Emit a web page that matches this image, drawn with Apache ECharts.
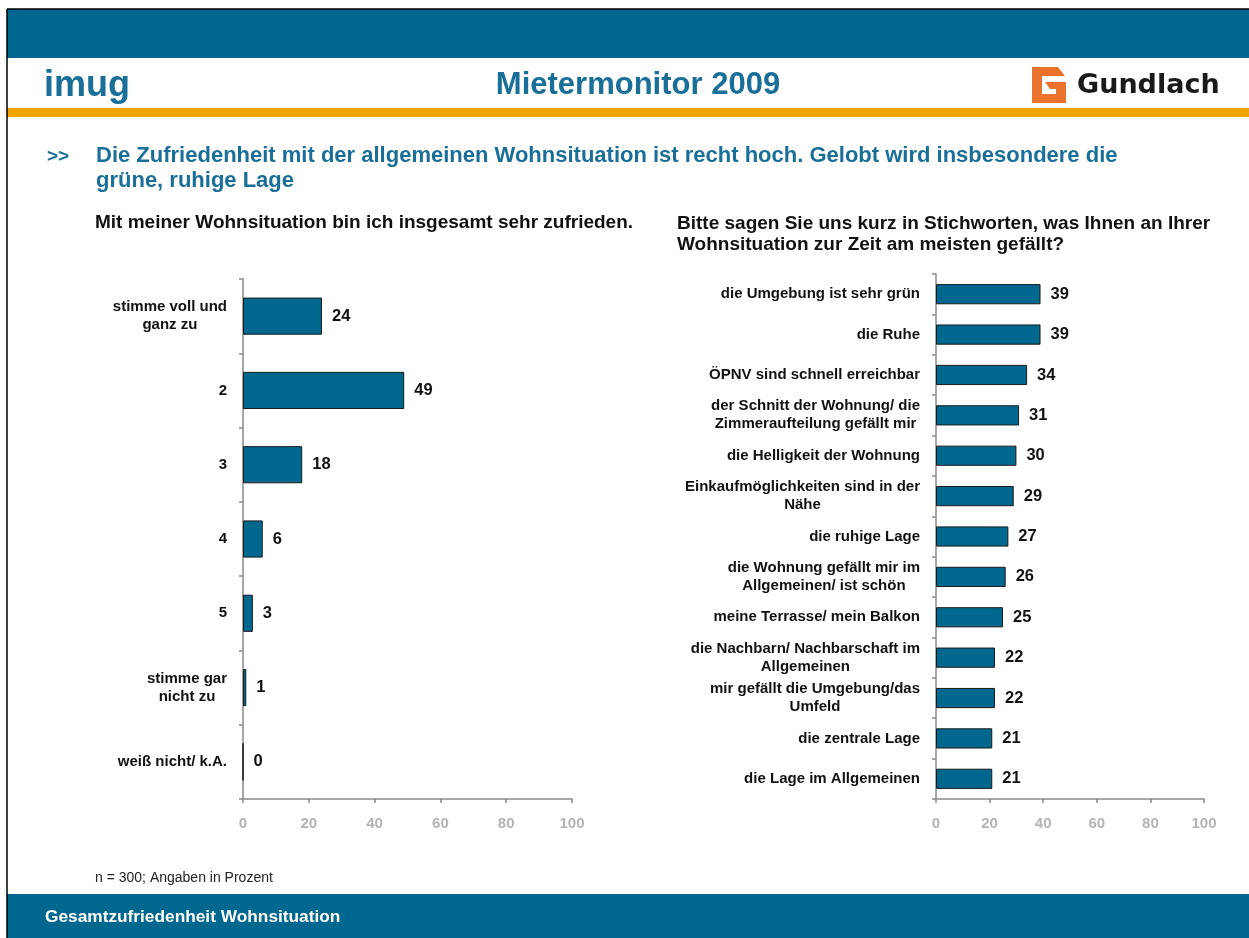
<!DOCTYPE html>
<html>
<head>
<meta charset="utf-8">
<title>Mietermonitor 2009</title>
<script src="https://cdn.jsdelivr.net/npm/echarts@6/dist/echarts.min.js"></script>
<style>
  html, body { margin: 0; padding: 0; background: #fff; }
  #chart { width: 1249px; height: 938px; }
</style>
</head>
<body>
<div id="chart"></div>
<script>
// left chart: satisfaction scale
const leftCategories = [
  'stimme voll und\nganz zu', '2', '3', '4', '5', 'stimme gar\nnicht zu', 'weiß nicht/ k.A.'
]
const leftValues = [24, 49, 18, 6, 3, 1, 0]

// right chart: what people like most
const rightCategories = [
  'die Umgebung ist sehr grün',
  'die Ruhe',
  'ÖPNV sind schnell erreichbar',
  'der Schnitt der Wohnung/ die\nZimmeraufteilung gefällt mir',
  'die Helligkeit der Wohnung',
  'Einkaufmöglichkeiten sind in der\nNähe',
  'die ruhige Lage',
  'die Wohnung gefällt mir im\nAllgemeinen/ ist schön',
  'meine Terrasse/ mein Balkon',
  'die Nachbarn/ Nachbarschaft im\nAllgemeinen',
  'mir gefällt die Umgebung/das\nUmfeld',
  'die zentrale Lage',
  'die Lage im Allgemeinen'
]
const rightValues = [39, 39, 34, 31, 30, 29, 27, 26, 25, 22, 22, 21, 21]

const xTicks = [0, 20, 40, 60, 80, 100]

const FONT = '"Liberation Sans", Arial, Helvetica, sans-serif'
const BLUE = '#00678f'

const chart = echarts.init(document.getElementById('chart'))

// every line centred inside the label block, block right-aligned to the axis
const centreLines = v => v.split('\n').map(l => '{c|' + l + '}').join('\n')

const catAxis = (gridIndex, data) => ({
  type: 'category',
  gridIndex,
  data,
  inverse: true,
  axisLine: { lineStyle: { color: '#8a8a8a', width: 1.5 } },
  axisTick: { show: true, length: 4, lineStyle: { color: '#8a8a8a', width: 1.5 } },
  axisLabel: {
    margin: 16,
    align: 'right',
    formatter: centreLines,
    rich: {
      c: {
        align: 'center',
        fontFamily: FONT,
        fontWeight: 'bold',
        fontSize: 15,
        lineHeight: 18,
        color: '#111'
      }
    }
  }
})

const valAxis = gridIndex => ({
  type: 'value',
  gridIndex,
  min: xTicks[0],
  max: xTicks[xTicks.length - 1],
  interval: xTicks[1] - xTicks[0],
  splitLine: { show: false },
  axisLine: { show: true, lineStyle: { color: '#8a8a8a', width: 1.5 } },
  axisTick: { show: true, length: 4, lineStyle: { color: '#8a8a8a', width: 1.5 } },
  axisLabel: {
    margin: 17,
    fontFamily: FONT,
    fontWeight: 'bold',
    fontSize: 15,
    color: '#b4b4b4'
  }
})

const barSeries = (idx, values) => ({
  type: 'bar',
  xAxisIndex: idx,
  yAxisIndex: idx,
  data: values,
  barCategoryGap: '50%',
  itemStyle: { color: BLUE, borderColor: '#1a1a1a', borderWidth: 1 },
  label: {
    show: true,
    position: 'right',
    distance: 10,
    fontFamily: FONT,
    fontWeight: 'bold',
    fontSize: 16.5,
    color: '#111'
  },
  silent: true
})

const txt = (text, x, y, size, color, weight, align, family) => ({
  type: 'text',
  silent: true,
  style: {
    text, x, y,
    fill: color,
    fontFamily: family || FONT,
    fontSize: size,
    fontWeight: weight || 'bold',
    align: align || 'left',
    verticalAlign: 'middle'
  }
})

const option = {
  animation: false,
  grid: [
    { left: 243, top: 279, width: 329, height: 520 },
    { left: 936, top: 274, width: 268, height: 525 }
  ],
  xAxis: [valAxis(0), valAxis(1)],
  yAxis: [catAxis(0, leftCategories), catAxis(1, rightCategories)],
  series: [barSeries(0, leftValues), barSeries(1, rightValues)],
  graphic: [
    // frame and bands
    { type: 'rect', silent: true, shape: { x: 7, y: 9, width: 1242, height: 49 }, style: { fill: BLUE } },
    { type: 'rect', silent: true, shape: { x: 7, y: 108, width: 1242, height: 9 }, style: { fill: '#f0a400' } },
    { type: 'rect', silent: true, shape: { x: 7, y: 894, width: 1242, height: 44 }, style: { fill: BLUE } },
    { type: 'line', silent: true, shape: { x1: 7, y1: 9, x2: 7, y2: 938 }, style: { stroke: '#000', lineWidth: 1.5 } },
    { type: 'line', silent: true, shape: { x1: 7, y1: 9, x2: 1249, y2: 9 }, style: { stroke: '#000', lineWidth: 1.5 } },

    // logos
    txt('imug', 44, 86, 36, '#1a6f98'),
    {
      type: 'polygon', silent: true,
      shape: { points: [[1032, 67], [1058, 67], [1065, 76], [1042, 76], [1042, 94], [1056, 94], [1056, 89], [1050, 89], [1045, 82], [1066, 82], [1066, 103], [1032, 103]] },
      style: { fill: '#e9722d' }
    },
    txt('Gundlach', 1077, 86, 27, '#1a1a1a', 'bold', 'left', '"DejaVu Sans", sans-serif'),
    txt('Mietermonitor 2009', 638, 85, 31, '#1a6f98', 'bold', 'center'),

    // headline
    txt('>>', 47, 157, 19, '#1a6f98'),
    txt('Die Zufriedenheit mit der allgemeinen Wohnsituation ist recht hoch. Gelobt wird insbesondere die', 96, 156, 22, '#1a6f98'),
    txt('grüne, ruhige Lage', 96, 181, 22, '#1a6f98'),

    // chart titles
    txt('Mit meiner Wohnsituation bin ich insgesamt sehr zufrieden.', 95, 223, 19, '#111'),
    txt('Bitte sagen Sie uns kurz in Stichworten, was Ihnen an Ihrer', 677, 224, 19, '#111'),
    txt('Wohnsituation zur Zeit am meisten gefällt?', 677, 245, 19, '#111'),

    // footnote and footer
    txt('n = 300; Angaben in Prozent', 95, 878, 14, '#222', 'normal'),
    txt('Gesamtzufriedenheit Wohnsituation', 45, 917, 17.3, '#fff')
  ]
}

chart.setOption(option)
</script>
</body>
</html>
